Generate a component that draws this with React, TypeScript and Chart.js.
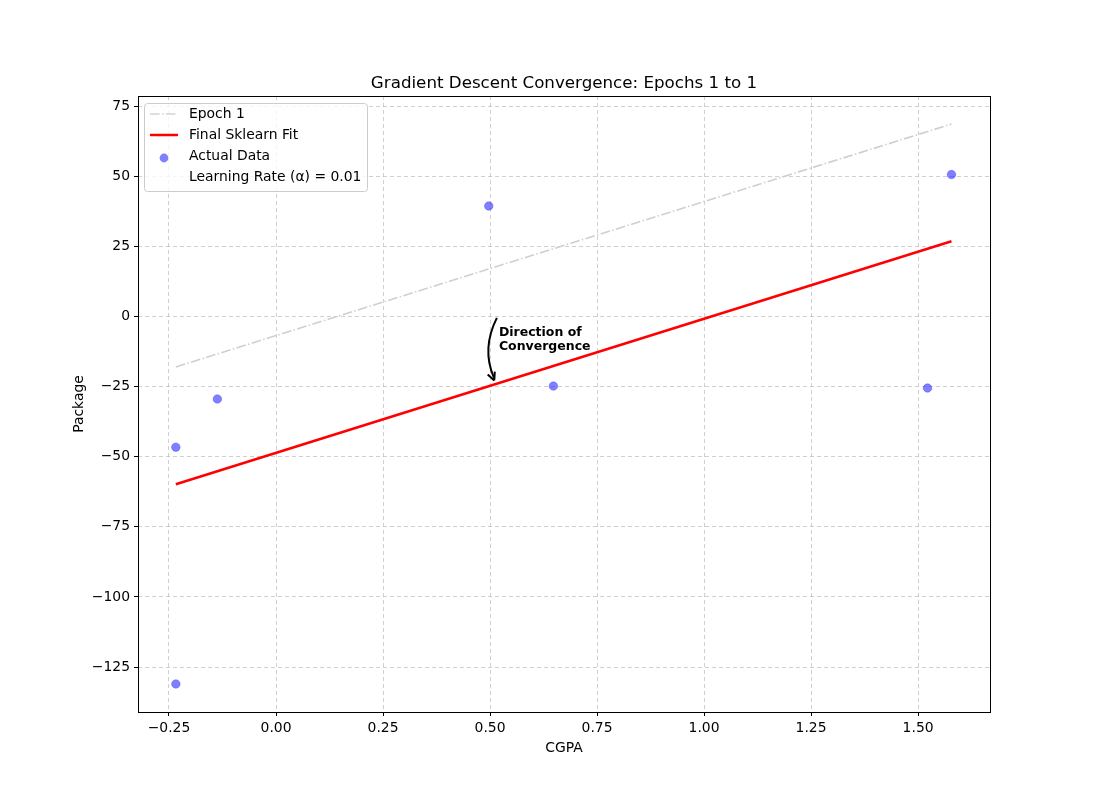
import React, { useEffect, useRef } from "react";
import { Chart, registerables } from "chart.js";
Chart.register(...registerables);

const titleText = "Gradient Descent Convergence: Epochs 1 to 1";
const xLabel = "CGPA";
const yLabel = "Package";
const xTicks = [-0.25, 0, 0.25, 0.5, 0.75, 1.0, 1.25, 1.5];
const yTicks = [-125, -100, -75, -50, -25, 0, 25, 50, 75];
const dataX = [0.497, -0.137, -0.234, -0.234, 0.648, 1.522, 1.578];
const dataY = [39.4, -29.4, -46.6, -131.0, -24.8, -25.5, 50.6];
const epochX = [-0.234, 1.578];
const epochY = [-18.0, 68.6];
const fitX = [-0.234, 1.578];
const fitY = [-59.8, 26.8];
const legendLabels = ["Epoch 1", "Final Sklearn Fit", "Actual Data", "Learning Rate (α) = 0.01"];
const annotText = ["Direction of", "Convergence"];
const arrowFrom = { x: 0.516, y: -0.5 };
const arrowTo = { x: 0.509, y: -22.5 };

const FONT = "'DejaVu Sans', sans-serif";
const FS = 13.9;
const fmtNum = (v: number, d: number) => (v < 0 ? "\u2212" : "") + Math.abs(v).toFixed(d);

export default function App() {
  const ref = useRef<HTMLCanvasElement>(null);
  useEffect(() => {
    document.body.style.margin = "0";
    const ctx = ref.current!.getContext("2d")!;
    const decor = {
      id: "decor",
      afterDatasetsDraw(chart: any) {
        const c = chart.ctx;
        const a = chart.chartArea;
        const xs = chart.scales.x, ys = chart.scales.y;
        c.save();
        // arrow
        const x0 = xs.getPixelForValue(arrowFrom.x), y0 = ys.getPixelForValue(arrowFrom.y);
        const x1 = xs.getPixelForValue(arrowTo.x), y1 = ys.getPixelForValue(arrowTo.y);
        const cx = (x0 + x1) / 2 - 14, cy = (y0 + y1) / 2;
        c.strokeStyle = "#000"; c.lineWidth = 2;
        c.beginPath(); c.moveTo(x0, y0); c.quadraticCurveTo(cx, cy, x1, y1 - 2); c.stroke();
        const ang = Math.atan2(y1 - cy, x1 - cx);
        c.beginPath();
        c.moveTo(x1 + Math.cos(ang) * 1, y1 + Math.sin(ang) * 1);
        c.lineTo(x1 - Math.cos(ang - 0.5) * 8, y1 - Math.sin(ang - 0.5) * 8);
        c.moveTo(x1 + Math.cos(ang) * 1, y1 + Math.sin(ang) * 1);
        c.lineTo(x1 - Math.cos(ang + 0.5) * 8, y1 - Math.sin(ang + 0.5) * 8);
        c.stroke();
        // annotation text
        c.fillStyle = "#000"; c.font = `bold 12.5px ${FONT}`;
        c.textAlign = "left"; c.textBaseline = "alphabetic";
        c.fillText(annotText[0], x0 + 2, y0 + 18);
        c.fillText(annotText[1], x0 + 2, y0 + 32);
        // frame
        c.strokeStyle = "#000"; c.lineWidth = 1;
        c.strokeRect(a.left + 0.5, a.top + 0.5, a.right - a.left, a.bottom - a.top);
        // title & labels
        c.font = `16.7px ${FONT}`; c.textAlign = "center"; c.textBaseline = "alphabetic";
        c.fillText(titleText, (a.left + a.right) / 2, 88);
        c.font = `${FS}px ${FONT}`;
        c.fillText(xLabel, (a.left + a.right) / 2, 752);
        c.save(); c.translate(83, (a.top + a.bottom) / 2); c.rotate(-Math.PI / 2);
        c.fillText(yLabel, 0, 0); c.restore();
        // legend
        const lx = 144, ly = 103, lw = 223, lh = 88;
        c.fillStyle = "rgba(255,255,255,0.8)"; c.strokeStyle = "#cccccc"; c.lineWidth = 1;
        c.beginPath(); (c as any).roundRect(lx + 0.5, ly + 0.5, lw, lh, 3); c.fill(); c.stroke();
        const rows = [114, 135, 156, 177];
        c.lineWidth = 1.5; c.strokeStyle = "#d3d3d3"; c.setLineDash([9.6, 2.4, 1.5, 2.4]);
        c.beginPath(); c.moveTo(150, rows[0]); c.lineTo(178, rows[0]); c.stroke();
        c.setLineDash([]); c.lineWidth = 2.5; c.strokeStyle = "red";
        c.beginPath(); c.moveTo(150, rows[1]); c.lineTo(178, rows[1]); c.stroke();
        c.fillStyle = "rgba(0,0,255,0.5)";
        c.beginPath(); c.arc(164, rows[2] + 2, 4.4, 0, Math.PI * 2); c.fill();
        c.fillStyle = "#000"; c.font = `${FS}px ${FONT}`; c.textAlign = "left"; c.textBaseline = "middle";
        legendLabels.forEach((t, i) => c.fillText(t, 189, rows[i]));
        c.restore();
      },
    };
    const chart = new Chart(ctx, {
      type: "scatter",
      data: {
        datasets: [
          {
            type: "line", label: legendLabels[0],
            data: epochX.map((x, i) => ({ x, y: epochY[i] })),
            borderColor: "#cfcfcf", borderWidth: 1.6, borderDash: [9.6, 2.4, 1.5, 2.4],
            pointRadius: 0, fill: false,
          },
          {
            type: "line", label: legendLabels[1],
            data: fitX.map((x, i) => ({ x, y: fitY[i] })),
            borderColor: "red", borderWidth: 2.5, pointRadius: 0, fill: false,
          },
          {
            label: legendLabels[2],
            data: dataX.map((x, i) => ({ x, y: dataY[i] })),
            backgroundColor: "rgba(0,0,255,0.5)", borderColor: "rgba(0,0,255,0.5)",
            borderWidth: 0.5, pointRadius: 4.3, pointHoverRadius: 4.3,
          },
        ] as any,
      },
      options: {
        animation: false, responsive: false,
        layout: { padding: { left: 0, right: 110, top: 96, bottom: 0 } },
        plugins: { legend: { display: false }, tooltip: { enabled: false } },
        scales: {
          x: {
            type: "linear", min: -0.3224, max: 1.668,
            afterBuildTicks: (s: any) => { s.ticks = xTicks.map((v) => ({ value: v })); },
            afterFit: (s: any) => { s.height = 88; },
            ticks: { callback: (v: any) => fmtNum(Number(v), 2), color: "#000", font: { family: FONT, size: FS }, padding: 4, maxRotation: 0 },
            grid: { color: "rgba(176,176,176,0.6)", tickColor: "#000", tickLength: 4, tickBorderDash: [], drawTicks: true },
            border: { display: false, dash: [4, 3] },
          },
          y: {
            type: "linear", min: -141.0, max: 78.6,
            afterBuildTicks: (s: any) => { s.ticks = yTicks.map((v) => ({ value: v })); },
            afterFit: (s: any) => { s.width = 138; },
            ticks: { callback: (v: any) => fmtNum(Number(v), 0), color: "#000", font: { family: FONT, size: FS }, padding: 4 },
            grid: { color: "rgba(176,176,176,0.6)", tickColor: "#000", tickLength: 4, tickBorderDash: [], drawTicks: true },
            border: { display: false, dash: [4, 3] },
          },
        },
      },
      plugins: [decor],
    } as any);
    return () => chart.destroy();
  }, []);
  return <canvas ref={ref} width={1100} height={800} style={{ display: "block" }} />;
}
